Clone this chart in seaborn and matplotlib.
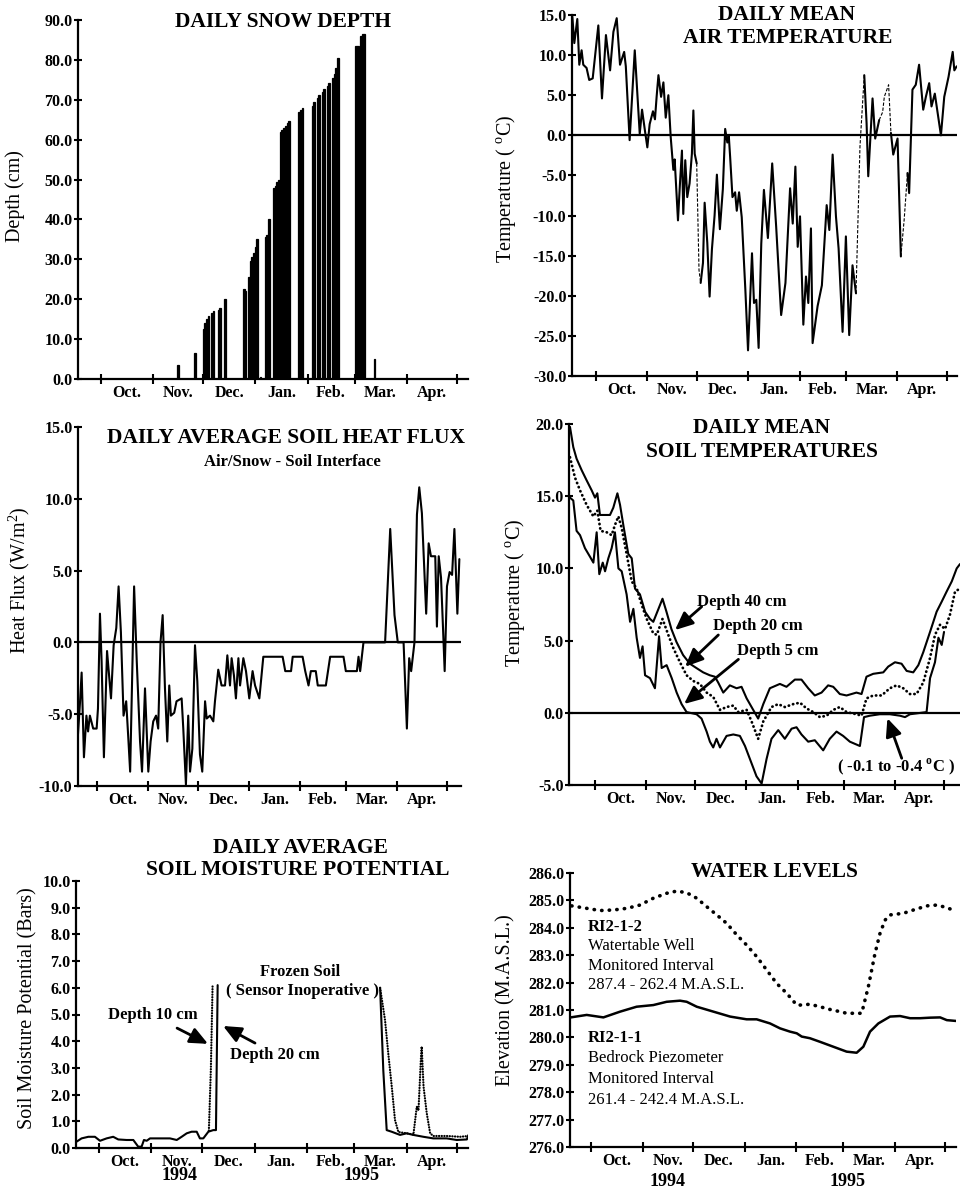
import matplotlib
matplotlib.use("Agg")
import matplotlib.pyplot as plt
import seaborn as sns

# ---------------- data ----------------
# x values are days counted from 1 Oct 1994
month_start_days = [0, 31, 61, 92, 123, 151, 182, 212]
month_labels = ["Oct.", "Nov.", "Dec.", "Jan.", "Feb.", "Mar.", "Apr."]

# daily snow depth (cm)
snow_day = [46, 56, 61, 62, 63, 64, 66, 67, 70, 71, 74, 85, 86, 88, 89, 90, 91, 92, 93, 95,
            98, 99, 100, 103, 104, 105, 106, 107, 108, 109, 110, 111, 112, 118, 119, 120,
            126, 127, 129, 130, 132, 133, 135, 136, 138, 139, 140, 141, 152, 153, 155, 156, 157, 163]
snow_depth = [3.5, 6.5, 12.5, 14.0, 15.0, 15.7, 16.5, 17.0, 17.3, 17.8, 20.0, 22.5, 22.0, 25.5, 29.5,
              30.5, 31.5, 33.0, 35.0, 0.5, 35.5, 36.0, 40.2, 48.0, 48.5, 49.5, 50.0, 62.0, 62.3, 63.0,
              63.5, 64.3, 64.8, 67.0, 67.5, 68.0, 68.5, 69.5, 70.5, 71.2, 72.0, 72.8, 73.5, 74.1,
              75.5, 76.5, 78.0, 80.4, 83.5, 83.5, 86.0, 86.5, 86.6, 5.0]

# daily mean air temperature (deg C)
air_day = [-14.3, -13.1, -11.3, -10.1, -8.7, -7.7, -5.7, -4.1, -2.0, 1.4, 3.6, 6.0, 8.5, 10.5, 12.5,
           14.5, 17.0, 18.0, 20.3, 23.4, 26.4, 27.8, 29.6, 31.0, 32.4, 34.4, 35.6, 36.6, 37.7, 39.3,
           40.7, 42.1, 43.7, 45.1, 46.7, 47.5, 49.5, 50.7, 51.9, 52.7, 53.9, 55.1, 56.5, 57.9, 58.8,
           59.6, 60.8, 62.2, 63.2, 64.6, 65.6, 67.2, 68.6, 70.0, 71.6, 73.0, 74.8, 76.6, 78.0, 79.3,
           80.2, 81.0, 82.4, 84.0, 85.0, 86.4, 88.0, 90.2, 91.8, 92.8, 94.2, 95.4, 96.8, 98.2, 99.8,
           101.4, 103.8, 106.4, 108.8, 111.8, 114.4, 117.2, 118.8, 120.4, 121.8, 123.2, 125.2, 126.8,
           128.2, 129.8, 130.8, 133.8, 136.4, 139.3, 140.9, 142.9, 144.9, 146.5, 148.9, 150.9, 152.9,
           154.9, 157.0, 159.4, 162.0, 163.4, 164.4, 167.0, 168.6, 171.0, 173.1, 174.1, 176.7, 178.1,
           179.5, 182.1, 184.1, 186.1, 188.1, 189.1, 191.1, 193.1, 195.1, 197.6, 199.2, 201.2, 202.6,
           204.6, 208.3, 210.3, 212.9, 215.4, 216.4, 217.8]
air_temp = [14.8, 11.5, 14.5, 8.8, 10.6, 8.8, 8.4, 6.9, 7.1, 13.7, 4.6, 12.5, 8.1, 12.9, 14.6,
            8.8, 10.4, 8.6, -0.6, 10.6, 0.2, 3.2, 0.5, -1.5, 1.4, 3.0, 2.0, 4.8, 7.5, 4.8,
            6.6, 2.2, 5.0, -0.2, -4.3, -3.0, -10.6, -6.0, -1.9, -9.8, -3.1, -7.7, -6.0, -2.3, 3.1,
            -2.3, -3.5, -16.8, -18.4, -15.9, -8.4, -13.4, -20.1, -14.2, -10.0, -4.9, -11.7, -6.7, 0.8, -0.9,
            -0.1, -2.7, -7.7, -7.1, -9.4, -7.1, -10.2, -19.3, -26.8, -21.8, -14.7, -20.9, -20.5, -26.5, -13.5,
            -6.8, -12.8, -3.5, -11.4, -22.4, -18.4, -6.6, -11.0, -3.9, -13.9, -10.1, -23.6, -17.6,
            -20.9, -11.6, -25.9, -21.3, -18.7, -8.7, -11.8, -2.4, -10.1, -14.1, -24.5, -12.6, -24.9,
            -16.2, -19.7, -1.4, 7.5, 1.5, -5.1, 4.6, -0.4, 1.9, 2.9, 4.8, 6.3, 0.3,
            -2.4, -0.4, -15.1, -10.5, -4.7, -7.2, 5.7, 6.3, 8.8, 3.2, 4.8, 6.5, 3.6,
            5.2, 0.0, 4.8, 7.3, 10.4, 8.1, 8.6]
air_missing = [(60.8, 63.2), (157.0, 162.0), (171.0, 178.1), (184.1, 188.1)]

# daily average soil heat flux (W/m2)
flux_day = [-11.9, -10.3, -9.3, -7.9, -6.4, -5.4, -4.3, -2.3, -0.2, 0.6, 1.8, 2.8, 4.2, 6.1, 8.5, 10.1,
            11.7, 13.1, 14.5, 16.1, 17.7, 19.1, 20.1, 22.5, 24.1, 26.1, 27.3, 29.1, 31.1, 32.5, 34.1,
            35.8, 37.1, 38.5, 39.8, 41.2, 42.6, 43.8, 44.8, 46.8, 48.2, 51.3, 52.3, 53.9, 55.3, 56.4,
            57.8, 59.4, 60.8, 62.4, 63.8, 65.5, 66.5, 68.5, 70.5, 71.5, 73.5, 75.5, 77.6, 79.0, 80.6,
            81.6, 83.0, 84.2, 85.7, 86.7, 88.7, 90.3, 92.3, 94.3, 95.8, 98.4, 100.8, 112.5, 114.1,
            117.6, 118.6, 124.6, 126.2, 128.2, 129.6, 132.6, 133.8, 138.7, 141.3, 149.4, 150.8, 157.5,
            158.5, 159.5, 161.5, 174.6, 177.7, 180.3, 182.3, 185.8, 187.8, 189.2, 190.4, 192.4, 193.9,
            195.3, 196.9, 198.5, 199.5, 201.0, 202.4, 205.0, 206.0, 207.1, 208.5, 209.7, 210.7, 212.1,
            213.7, 215.2, 216.6, 218.4, 219.6]
flux_val = [-7.1, -4.2, -2.1, -8.0, -5.1, -6.2, -5.1, -6.0, -6.0, -4.6, 2.0, -1.3, -8.0, -0.6, -3.9, -0.2,
            1.0, 3.9, 0.7, -5.1, -4.1, -6.9, -9.0, 3.9, -1.3, -6.9, -9.0, -3.2, -9.0, -6.9, -5.5,
            -5.1, -6.0, 0.0, 1.9, -3.2, -6.9, -3.0, -5.1, -4.9, -4.1, -3.9, -6.0, -9.9, -5.1, -9.0,
            -7.4, -0.2, -2.7, -7.8, -9.0, -4.1, -5.3, -5.1, -5.5, -4.1, -1.9, -3.0, -3.0, -0.9, -3.0,
            -1.1, -2.3, -3.9, -1.1, -3.0, -1.1, -2.0, -3.9, -2.0, -3.0, -3.9, -1.0, -1.0, -2.0,
            -2.0, -1.0, -1.0, -2.0, -3.0, -2.0, -2.0, -3.0, -3.0, -1.0, -1.0, -2.0, -2.0,
            -1.0, -2.0, 0.0, 0.0, 7.9, 1.9, 0.0, 0.0, -6.0, -1.1, -2.0, 0.0, 8.9,
            10.8, 9.0, 4.7, 2.0, 6.9, 6.0, 6.0, 1.1, 6.0, 4.5, 1.0, -2.0, 3.9,
            4.9, 4.7, 7.9, 2.0, 5.8]

# daily mean soil temperatures (deg C)
soil40_day = [-15.2, -13.2, -11.2, -8.1, -5.1, -2.0, 0.0, 1.4, 3.0, 6.1, 9.1, 11.1, 13.6, 15.2, 17.2,
              20.2, 22.3, 24.3, 27.3, 30.4, 33.4, 35.4, 41.0, 43.4, 46.4, 49.5, 53.5, 57.6, 61.6,
              65.7, 69.7, 72.8, 74.8, 77.9, 81.9, 86.0, 89.0, 92.1, 95.1, 99.1, 102.2, 106.2, 112.3,
              116.3, 121.4, 125.4, 129.5, 133.5, 137.6, 141.6, 144.7, 148.7, 152.8, 158.8, 161.9,
              164.9, 169.0, 175.1, 178.1, 182.2, 186.2, 189.3, 193.3, 196.4, 199.4, 203.5, 207.5,
              210.6, 213.6, 216.7, 219.7, 221.7]
soil40_temp = [19.8, 18.4, 17.6, 16.8, 16.1, 15.4, 14.9, 15.2, 13.7, 13.7, 13.7, 14.2, 15.2, 14.4, 13.0,
               11.0, 10.7, 8.6, 8.2, 7.0, 6.5, 6.3, 7.9, 7.0, 5.8, 4.9, 4.0, 3.4, 3.1,
               2.8, 2.6, 2.5, 2.1, 1.4, 1.9, 1.7, 1.8, 1.0, 0.4, -0.4, 0.6, 1.7, 2.0,
               1.8, 2.3, 2.3, 1.7, 1.2, 1.4, 1.9, 1.8, 1.3, 1.2, 1.4, 1.3,
               2.5, 2.7, 2.8, 3.2, 3.5, 3.4, 2.9, 2.8, 3.3, 4.2, 5.6, 7.0,
               7.7, 8.4, 9.1, 10.0, 10.3]
soil20_day = [-15.2, -12.2, -9.1, -5.1, -1.0, 1.4, 3.4, 7.1, 10.1, 12.1, 14.2, 16.2, 19.2, 22.3, 25.3,
              28.3, 31.4, 35.4, 37.5, 41.0, 44.5, 47.5, 51.6, 55.6, 59.7, 63.7, 67.8, 71.8, 75.9,
              79.9, 84.0, 87.0, 92.1, 95.1, 99.1, 102.2, 107.2, 111.3, 115.3, 120.4, 124.5, 128.5,
              132.6, 136.6, 140.7, 144.7, 148.7, 152.8, 158.8, 161.9, 164.9, 169.0, 174.1, 179.1,
              183.2, 187.2, 191.3, 195.3, 199.4, 203.5, 206.5, 209.6, 212.6, 215.6, 218.7, 221.7]
soil20_temp = [17.7, 16.3, 15.4, 14.4, 13.6, 14.0, 12.6, 12.5, 12.3, 13.0, 13.6, 12.8, 11.0, 9.1, 8.6,
               7.5, 6.5, 5.5, 5.4, 6.5, 5.4, 4.5, 3.5, 2.6, 2.2, 2.0, 1.4, 1.1, 0.2,
               0.4, 0.5, 0.05, 0.2, -0.6, -1.8, -0.6, 0.4, 0.6, 0.4, 0.6, 0.7, 0.3,
               0.05, -0.3, -0.2, 0.2, 0.4, 0.05, -0.1, -0.2, 1.0, 1.2, 1.2, 1.7,
               1.9, 1.7, 1.3, 1.3, 2.1, 3.8, 5.4, 6.1, 5.8, 6.8, 8.4, 8.6]
soil5_day = [-15.2, -13.2, -11.2, -9.1, -6.1, -3.0, -1.0, 1.0, 2.6, 4.7, 6.1, 8.1, 10.1, 12.1, 14.2,
             16.2, 19.2, 21.3, 23.3, 25.3, 27.3, 28.9, 30.4, 33.4, 36.4, 38.9, 40.5, 43.5, 46.6,
             49.6, 52.6, 55.6, 61.7, 64.7, 67.8, 69.8, 71.8, 73.8, 75.9, 79.9, 84.0, 88.0, 91.1,
             94.1, 98.1, 101.2, 104.2, 107.2, 111.3, 115.3, 119.4, 122.4, 125.4, 129.5, 133.5,
             138.6, 142.6, 146.7, 150.7, 154.8, 160.9, 163.4, 167.0, 173.0, 179.1, 185.2, 188.3,
             191.3, 201.4, 203.5, 206.5, 208.6, 210.6, 212.0]
soil5_temp = [14.9, 14.7, 12.6, 12.3, 11.4, 10.8, 10.4, 12.5, 9.6, 10.4, 9.8, 10.7, 11.4, 12.5, 10.0,
              9.8, 8.2, 6.3, 7.2, 5.2, 3.8, 4.6, 2.6, 2.4, 1.7, 5.3, 3.1, 3.3, 2.4,
              1.4, 0.6, 0.05, -0.1, -0.4, -1.3, -2.0, -2.4, -1.8, -2.4, -1.6, -1.5, -1.6, -2.3,
              -3.2, -4.4, -4.9, -3.2, -1.8, -1.2, -1.8, -1.1, -1.0, -1.5, -2.0, -1.9,
              -2.6, -1.8, -1.3, -1.6, -2.0, -2.3, -0.3, -0.2, -0.1, -0.1, -0.2, -0.3,
              -0.1, 0.05, 2.4, 3.5, 5.2, 4.7, 5.6]

# daily average soil moisture potential (bars)
sm20_day = [-13.2, -10.3, -6.3, -2.4, 0.6, 4.5, 8.4, 11.4, 16.3, 20.3, 23.2, 25.2, 26.6, 28.2, 30.2,
            34.1, 38.1, 42.0, 46.0, 48.9, 51.9, 54.8, 57.8, 59.7, 61.7, 64.7, 67.6, 69.2, 70.2]
sm20_val = [0.24, 0.36, 0.42, 0.42, 0.27, 0.36, 0.42, 0.32, 0.30, 0.30, 0.05, 0.05, 0.30, 0.27, 0.36,
            0.36, 0.36, 0.36, 0.30, 0.42, 0.55, 0.61, 0.61, 0.36, 0.36, 0.61, 0.67, 0.67, 6.1]
sm20_spring_day = [166.3, 168.2, 170.2, 173.1, 178.1, 182.0, 186.0, 191.9, 197.8, 205.7, 211.6, 217.6, 218.6]
sm20_spring_val = [6.0, 2.9, 0.67, 0.61, 0.49, 0.55, 0.49, 0.42, 0.36, 0.36, 0.30, 0.32, 0.49]
sm10_day = [65.0, 66.2, 67.2]
sm10_val = [0.65, 3.0, 6.1]
sm10_spring_day = [166.3, 169.2, 171.2, 173.2, 175.1, 177.1, 182.0, 186.0, 188.0, 189.0, 190.4, 190.9,
                   192.0, 193.9, 195.9, 197.8, 205.7, 213.6, 218.6]
sm10_spring_val = [6.0, 4.8, 3.5, 2.3, 1.05, 0.6, 0.55, 0.5, 1.55, 1.4, 3.3, 3.8,
                   2.3, 1.3, 0.55, 0.45, 0.45, 0.42, 0.45]

# water levels (m a.s.l.)
well_day = [-11.6, -2.6, 5.4, 13.4, 21.4, 29.3, 37.3, 45.3, 51.3, 57.3, 63.3, 69.3, 75.3, 81.3, 87.3,
            93.2, 99.2, 105.2, 111.2, 117.2, 123.2, 125.2, 131.1, 137.1, 143.1, 149.1, 153.1, 162.1,
            166.1, 170.1, 173.1, 176.1, 179.1, 187.1, 193.1, 201.1, 207.1, 211.0, 217.0]
well_elev = [284.80, 284.71, 284.63, 284.65, 284.71, 284.83, 285.08, 285.26, 285.34, 285.28, 285.08,
             284.77, 284.47, 284.16, 283.74, 283.37, 282.95, 282.46, 281.97, 281.61, 281.18, 281.18,
             281.21, 281.12, 281.02, 280.94, 280.88, 280.88, 281.85, 283.07, 283.80, 284.28, 284.47,
             284.53, 284.65, 284.80, 284.83, 284.77, 284.65]
piezo_day = [-12.2, -2.6, 7.4, 17.4, 27.3, 37.3, 45.3, 53.3, 57.3, 63.3, 73.3, 83.3, 93.2, 99.2, 107.2,
             113.2, 119.2, 123.2, 126.2, 131.1, 137.1, 145.1, 153.1, 159.1, 163.1, 167.1, 172.1, 179.1,
             185.1, 191.1, 197.1, 203.1, 209.1, 213.1, 218.7]
piezo_elev = [280.73, 280.82, 280.73, 280.94, 281.12, 281.18, 281.30, 281.34, 281.30, 281.12, 280.94,
              280.76, 280.66, 280.66, 280.51, 280.33, 280.21, 280.15, 280.03, 279.97, 279.84, 279.66,
              279.48, 279.44, 279.66, 280.21, 280.51, 280.76, 280.78, 280.70, 280.70, 280.72, 280.73,
              280.63, 280.60]

# ---------------- style ----------------
sns.set_theme(style="white", rc={
    "axes.edgecolor": "black", "text.color": "black", "axes.labelcolor": "black",
    "xtick.color": "black", "ytick.color": "black"})
plt.rcParams["font.family"] = ["Liberation Serif", "DejaVu Serif"]
plt.rcParams["mathtext.fontset"] = "custom"
plt.rcParams["mathtext.rm"] = "Liberation Serif"
plt.rcParams["mathtext.bf"] = "Liberation Serif:bold"

W, H = 960, 1193
fig = plt.figure(figsize=(W / 100, H / 100), dpi=100)


def add_axes(left, top, right, bottom):
    return fig.add_axes([left / W, 1 - bottom / H, (right - left) / W, (bottom - top) / H])


def ftext(px, py, s, size=15.5, weight="bold", **kw):
    fig.text(px / W, 1 - py / H, s, ha="center", va="center", fontsize=size, fontweight=weight, **kw)


month_mid = [(a + b) / 2 for a, b in zip(month_start_days[:-1], month_start_days[1:])]


def style_axis(ax, xlim, ylim, yticks, ylabel, label_xy):
    ax.set_xlim(*xlim)
    ax.set_ylim(*ylim)
    ax.grid(False)
    for s in ["top", "right"]:
        ax.spines[s].set_visible(False)
    for s in ["left", "bottom"]:
        ax.spines[s].set_linewidth(1.6)
        ax.spines[s].set_color("black")
    ax.set_xticks(month_start_days, labels=[""] * len(month_start_days))
    ax.set_xticks(month_mid, labels=month_labels, minor=True, fontweight="bold", fontsize=11.5)
    ax.tick_params(axis="x", which="major", direction="inout", length=7, width=1.5, bottom=True)
    ax.tick_params(axis="x", which="minor", length=0, pad=4, bottom=True)
    ax.set_yticks(yticks, labels=[f"{v:.1f}" for v in yticks], fontweight="bold", fontsize=11.5)
    ax.tick_params(axis="y", direction="inout", length=6, width=1.5, pad=1, left=True)
    ax.set_xlabel("")
    ax.set_ylabel(ylabel, fontsize=14.5)
    ax.yaxis.set_label_coords(*label_xy)


def line(ax, x, y, lw=1.5, **kw):
    sns.lineplot(x=x, y=y, ax=ax, color="black", lw=lw, sort=False, estimator=None, **kw)


def line_with_missing(ax, x, y, missing, lw=1.5):
    flags = [any(a <= x[i] and x[i + 1] <= b for a, b in missing) for i in range(len(x) - 1)]
    start = 0
    for i in range(1, len(flags) + 1):
        if i == len(flags) or flags[i] != flags[start]:
            seg_x, seg_y = x[start:i + 1], y[start:i + 1]
            if flags[start]:
                line(ax, seg_x, seg_y, lw=0.8, linestyle=(0, (3, 1.5)))
            else:
                line(ax, seg_x, seg_y, lw=lw)
            start = i


arrow = dict(arrowstyle="-|>,head_length=0.9,head_width=0.4", lw=2.0, color="black",
             shrinkA=0, shrinkB=0)

# ---- Panel 1: snow depth ----
ax1 = add_axes(78, 20, 468, 379)
sns.barplot(x=snow_day, y=snow_depth, native_scale=True, color="black", saturation=1,
            width=1.0, errorbar=None, edgecolor="black", linewidth=0.9, ax=ax1)
style_axis(ax1, (-13.7, 218.6), (0, 90), list(range(0, 91, 10)), "Depth (cm)", (-0.135, 0.51))
ftext(283, 22, "DAILY SNOW DEPTH")

# ---- Panel 2: air temperature ----
ax2 = add_axes(572, 15, 957, 376)
ax2.axhline(0, color="black", lw=1.6)
line_with_missing(ax2, air_day, air_temp, air_missing)
style_axis(ax2, (-14.5, 218.0), (-30, 15), list(range(-30, 16, 5)),
           r"Temperature ( $^{\mathrm{o}}$C)", (-0.14, 0.518))
ftext(787, 15, "DAILY MEAN")
ftext(788, 38, "AIR TEMPERATURE")

# ---- Panel 3: soil heat flux ----
ax3 = add_axes(78, 427, 461, 786)
ax3.axhline(0, color="black", lw=1.6)
line(ax3, flux_day, flux_val)
style_axis(ax3, (-11.5, 220.6), (-10, 15), list(range(-10, 16, 5)),
           r"Heat Flux (W/m$^{\mathrm{2}}$)", (-0.12, 0.574))
ftext(286, 438, "DAILY AVERAGE SOIL HEAT FLUX")
ftext(292, 462, "Air/Snow - Soil Interface", size=12)

# ---- Panel 4: soil temperatures ----
ax4 = add_axes(569, 424, 960, 785)
ax4.axhline(0, color="black", lw=1.6)
line(ax4, soil40_day, soil40_temp)
line(ax4, soil20_day, soil20_temp, lw=2.0, linestyle=(0, (0.1, 1.5)), dash_capstyle="round")
line(ax4, soil5_day, soil5_temp)
style_axis(ax4, (-15.8, 221.7), (-5, 20), list(range(-5, 21, 5)),
           r"Temperature ( $^{\mathrm{o}}$C)", (-0.107, 0.533))
ftext(762, 428, "DAILY MEAN")
ftext(762, 452, "SOIL TEMPERATURES")
ann_kw = dict(fontsize=12, fontweight="bold", ha="center", va="center")
ax4.text(89.1, 7.67, "Depth 40 cm", **ann_kw)
ax4.text(98.7, 6.01, "Depth 20 cm", **ann_kw)
ax4.text(110.9, 4.28, "Depth 5 cm", **ann_kw)
ax4.text(182.8, -3.75, r"( -0.1 to -0.4 $^{\mathbf{o}}$C )", **ann_kw)
ax4.annotate("", xy=(48.6, 5.73), xytext=(64.8, 7.35), arrowprops=arrow)
ax4.annotate("", xy=(54.7, 3.19), xytext=(74.9, 5.39), arrowprops=arrow)
ax4.annotate("", xy=(54.1, 0.61), xytext=(87.1, 3.70), arrowprops=arrow)
ax4.annotate("", xy=(177.6, -0.38), xytext=(186.3, -3.15), arrowprops=arrow)

# ---- Panel 5: soil moisture potential ----
ax5 = add_axes(76, 881, 468, 1148)
line(ax5, sm20_day, sm20_val)
line(ax5, sm20_spring_day, sm20_spring_val)
line(ax5, sm10_day, sm10_val, lw=1.6, linestyle=(0, (0.1, 1.1)), dash_capstyle="round")
line(ax5, sm10_spring_day, sm10_spring_val, lw=1.6, linestyle=(0, (0.1, 1.1)), dash_capstyle="round")
style_axis(ax5, (-13.6, 218.3), (0, 10), list(range(0, 11)),
           "Soil Moisture Potential (Bars)", (-0.0995, 0.524))
ftext(300, 848, "DAILY AVERAGE")
ftext(298, 870, "SOIL MOISTURE POTENTIAL")
ax5.text(118.9, 6.59, "Frozen Soil", **ann_kw)
ax5.text(120.1, 5.88, "( Sensor Inoperative )", **ann_kw)
ax5.text(32.0, 4.98, "Depth 10 cm", **ann_kw)
ax5.text(104.1, 3.48, "Depth 20 cm", **ann_kw)
ax5.annotate("", xy=(64.5, 3.9), xytext=(46.2, 4.49), arrowprops=arrow)
ax5.annotate("", xy=(73.4, 4.57), xytext=(92.3, 3.93), arrowprops=arrow)
ftext(180, 1176, "1994", size=13)
ftext(362, 1176, "1995", size=13)

# ---- Panel 6: water levels ----
ax6 = add_axes(570, 873, 956, 1147)
line(ax6, well_day, well_elev, lw=2.6, linestyle=(0, (0.1, 2.0)), dash_capstyle="round")
line(ax6, piezo_day, piezo_elev, lw=1.8)
style_axis(ax6, (-12.6, 218.6), (276, 286), list(range(276, 287)),
           "Elevation (M.A.S.L.)", (-0.14, 0.536))
ftext(774, 872, "WATER LEVELS")
blk = dict(fontsize=12, ha="left", va="center")
ax6.text(-1.8, 284.03, "RI2-1-2", fontweight="bold", **blk)
ax6.text(-1.8, 283.32, "Watertable Well", **blk)
ax6.text(-1.8, 282.61, "Monitored Interval", **blk)
ax6.text(-1.8, 281.92, "287.4 - 262.4 M.A.S.L.", **blk)
ax6.text(-1.8, 279.96, "RI2-1-1", fontweight="bold", **blk)
ax6.text(-1.8, 279.23, "Bedrock Piezometer", **blk)
ax6.text(-1.8, 278.50, "Monitored Interval", **blk)
ax6.text(-1.8, 277.73, "261.4 - 242.4 M.A.S.L.", **blk)
ftext(668, 1181, "1994", size=13)
ftext(848, 1181, "1995", size=13)

fig.savefig("out.png", dpi=100)
